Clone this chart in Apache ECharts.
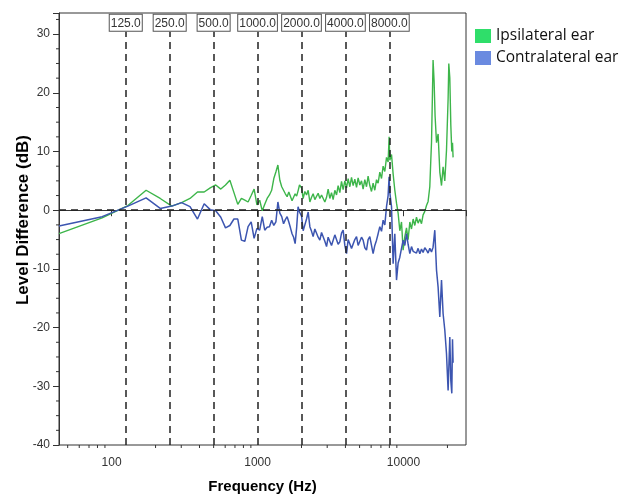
<!DOCTYPE html>
<html>
<head>
<meta charset="utf-8">
<script src="https://cdn.jsdelivr.net/npm/echarts@6/dist/echarts.min.js"></script>
<style>
html, body { margin: 0; padding: 0; background: #fff; }
#chart { width: 639px; height: 498px; }
</style>
</head>
<body>
<div id="chart"></div>
<script>
// level difference vs frequency
var ipsiFreq = [43.6, 86.1, 129.2, 172.3, 215.3, 258.4, 301.5, 344.5, 387.6, 430.7, 473.7, 516.8, 559.9, 603, 646, 689, 732, 775, 818, 861,
    904, 947, 990, 1034, 1077, 1120, 1163, 1206, 1249, 1292, 1335, 1378, 1421, 1464, 1507, 1550, 1594, 1637, 1680, 1723,
    1766, 1809, 1852, 1895, 1938, 2002, 2053, 2109, 2166, 2222, 2282, 2344, 2403, 2469, 2536, 2601, 2672, 2744, 2814, 2891,
    2969, 3045, 3127, 3212, 3295, 3384, 3476, 3565, 3662, 3761, 3858, 3962, 4070, 4174, 4288, 4404, 4517, 4639, 4765, 4887,
    5020, 5155, 5287, 5431, 5578, 5720, 5876, 6035, 6190, 6358, 6531, 6699, 6881, 7068, 7249, 7445, 7648, 7843, 7968, 8057,
    8276, 8488, 8718, 8955, 9184, 9434, 9689, 9938, 10210, 10480, 10750, 11050, 11340, 11640, 11950, 12270, 12590, 12930, 13280, 13620,
    13990, 14370, 14740, 15140, 15380, 15550, 15790, 15940, 16200, 16460, 16830, 17260, 17730, 18210, 18670, 19180, 19700, 20210, 20430, 20760,
    21090, 21420, 21660, 21860];
var ipsiLevel = [-4.0, -1.3, 0.8, 3.4, 2.0, 0.7, 1.3, 2.0, 3.1, 3.1, 3.8, 4.3, 3.6, 4.3, 5.1, 3.0, 1.0, 2.0, 1.7, 1.4,
    2.5, 3.6, 0.9, 1.7, -0.1, 1.0, 2.0, 2.6, 3.4, 5.4, 6.5, 7.7, 5.1, 4.0, 3.7, 2.8, 2.3, 3.1, 2.9, 1.6,
    1.4, 2.8, 2.4, 3.3, 4.3, 3.8, 2.0, 3.2, 2.6, 3.4, 1.4, 2.2, 2.8, 1.8, 1.7, 2.9, 2.0, 2.6, 2.4, 1.4,
    2.2, 3.6, 2.0, 3.0, 1.8, 3.4, 2.6, 4.2, 3.0, 4.9, 3.5, 5.0, 3.8, 5.4, 4.0, 5.6, 4.2, 5.3, 3.9, 5.5,
    4.3, 5.0, 3.6, 5.2, 4.0, 5.8, 4.2, 3.2, 4.6, 3.4, 5.2, 4.6, 6.5, 5.4, 7.5, 6.6, 9.0, 8.2, 12.5, 8.5,
    9.5, 6.2, 3.4, 1.2, -0.5, -3.5, -2.0, -6.8, -4.5, -3.0, -5.0, -2.0, -3.2, -1.5, -2.6, -1.2, -2.2, -1.5, -2.3, -0.8,
    -0.2, 0.8, 1.5, 4.0, 8.5, 11.5, 20.0, 25.6, 22.0, 16.0, 11.5, 13.0, 6.5, 4.2, 7.4, 5.0, 10.2, 19.0, 25.0, 22.5,
    14.5, 10.0, 11.5, 9.0];

var contraFreq = [43.6, 86.1, 129.2, 172.3, 215.3, 258.4, 301.5, 344.5, 387.6, 430.7, 473.7, 516.8, 559.9, 603, 646, 689, 732, 775, 818, 861,
    904, 947, 990, 1034, 1077, 1120, 1163, 1206, 1249, 1292, 1335, 1378, 1421, 1464, 1507, 1550, 1594, 1637, 1680, 1723,
    1766, 1809, 1852, 1895, 1938, 2002, 2053, 2109, 2166, 2222, 2282, 2344, 2403, 2469, 2536, 2601, 2672, 2744, 2814, 2891,
    2969, 3045, 3127, 3212, 3295, 3384, 3476, 3565, 3662, 3761, 3858, 3962, 4070, 4174, 4288, 4404, 4517, 4639, 4765, 4887,
    5020, 5155, 5287, 5431, 5578, 5720, 5876, 6035, 6190, 6358, 6531, 6699, 6881, 7068, 7249, 7445, 7648, 7843, 7968, 8057,
    8276, 8488, 8718, 8955, 9184, 9434, 9689, 9938, 10210, 10480, 10750, 11050, 11340, 11640, 11950, 12270, 12590, 12930, 13280, 13620,
    13990, 14370, 14740, 15140, 15550, 15940, 16380, 16830, 17260, 17730, 18210, 18670, 19180, 19700, 20210, 20760, 21090, 21420, 21660, 21860];
var contraLevel = [-2.7, -1.1, 0.7, 2.1, 0.3, 0.7, 1.3, 0.6, -1.5, 1.1, 0.1, -0.1, -1.2, -3.0, -2.6, -1.5, -1.5, -5.1, -5.3, -2.8,
    -2.0, -4.8, -3.1, -3.4, -1.1, -3.4, -2.9, -2.8, -1.7, -2.6, -2.0, 1.4, -0.5, -1.1, -2.3, -1.6, -1.1, -2.0, -3.0, -4.0,
    -4.6, -5.7, -3.0, 0.6, -0.3, -1.0, -3.5, -2.5, -1.5, -0.3, -2.8, -3.6, -4.5, -3.2, -3.4, -4.6, -5.1, -3.8, -4.0, -5.3,
    -6.2, -4.6, -4.5, -6.0, -5.7, -4.2, -4.0, -5.8, -5.4, -3.9, -3.4, -6.0, -7.4, -5.0, -5.1, -6.5, -6.8, -5.0, -4.5, -6.0,
    -6.2, -4.6, -5.1, -6.4, -6.8, -5.0, -4.5, -6.0, -7.4, -6.0, -5.1, -4.0, -2.8, -3.6, -1.7, -2.5, 0.6, 2.5, 5.7, 3.0,
    0.6, -9.1, -4.0, -11.9, -9.0, -8.0, -6.5, -5.1, -6.0, -4.0, -5.8, -7.4, -6.2, -7.0, -6.8, -7.3, -6.5, -7.4, -6.6, -7.2,
    -6.4, -6.8, -7.3, -6.5, -7.1, -6.3, -3.4, -10.2, -13.1, -18.2, -11.9, -17.6, -20.4, -24.4, -30.7, -21.6, -29.0, -31.2, -22.0, -26.0];

var bandFreqs = [125, 250, 500, 1000, 2000, 4000, 8000];
var xMajorTicks = [100, 1000, 10000];
var xMinorTicks = [50, 60, 70, 80, 90, 200, 300, 400, 500, 600, 700, 800, 900,
    2000, 3000, 4000, 5000, 6000, 7000, 8000, 9000, 20000];
var yMinorTicks = [-37.5, -35, -32.5, -27.5, -25, -22.5, -17.5, -15, -12.5, -7.5, -5, -2.5,
    2.5, 5, 7.5, 12.5, 15, 17.5, 22.5, 25, 27.5, 32.5];

var xMin = 43.6, xMax = 26800;
var yMin = -40, yMax = 33.6;

function pairs(xs, ys) {
    return xs.map(function (x, i) { return [x, ys[i]]; });
}

var bandLines = bandFreqs.map(function (f) {
    return [
        { coord: [f, yMin] },
        { coord: [f, 30.4], label: { formatter: f.toFixed(1) } }
    ];
});
bandLines.push({ yAxis: 0, label: { show: false } });

var axisFont = 'Liberation Sans, Arial, sans-serif';

var option = {
    animation: false,
    legend: {
        orient: 'vertical',
        left: 475,
        top: 28,
        padding: 0,
        itemWidth: 16,
        itemHeight: 14,
        itemGap: 6,
        icon: 'rect',
        textStyle: { fontSize: 15.5, fontFamily: 'Open Sans', color: '#111' },
        data: [
            { name: 'Ipsilateral ear', itemStyle: { color: '#2fde6a' } },
            { name: 'Contralateral ear', itemStyle: { color: '#6a8ae0' } }
        ]
    },
    grid: {
        left: 59, right: 173, top: 13, bottom: 53,
        show: true, borderColor: '#333', borderWidth: 1,
        outerBoundsMode: 'none'
    },
    xAxis: {
        type: 'log',
        logBase: 10,
        min: xMin,
        max: xMax,
        name: 'Frequency (Hz)',
        nameLocation: 'middle',
        nameGap: 34,
        nameMoveOverlap: false,
        nameTextStyle: { fontSize: 15, fontWeight: 'bold', color: '#000', fontFamily: axisFont },
        axisLine: { lineStyle: { color: '#333' } },
        axisTick: { length: 6, lineStyle: { color: '#333' } },
        axisLabel: {
            fontSize: 12, color: '#333', fontFamily: axisFont, margin: 12,
            formatter: function (v) {
                var r = Math.round(v);
                return xMajorTicks.indexOf(r) >= 0 ? String(r) : '';
            }
        },
        splitLine: { show: false }
    },
    yAxis: {
        type: 'value',
        min: yMin,
        max: yMax,
        interval: 10,
        name: 'Level Difference (dB)',
        nameLocation: 'middle',
        nameGap: 27,
        nameMoveOverlap: false,
        nameTextStyle: { fontSize: 17, fontWeight: 'bold', color: '#000', fontFamily: axisFont, padding: [0, 0, 0, 18] },
        axisLine: { show: true, lineStyle: { color: '#333' } },
        axisTick: { show: true, length: 6, lineStyle: { color: '#333' } },
        axisLabel: {
            fontSize: 12, color: '#333', fontFamily: axisFont, margin: 9,
            formatter: function (v) { return v % 10 === 0 ? String(v) : ''; }
        },
        splitLine: { show: false }
    },
    series: [
        {
            name: 'Ipsilateral ear',
            type: 'line',
            data: pairs(ipsiFreq, ipsiLevel),
            symbol: 'none',
            lineStyle: { color: '#3db54a', width: 1.4 },
            itemStyle: { color: '#3db54a' },
            markLine: {
                silent: true,
                symbol: ['none', 'none'],
                lineStyle: { color: '#222', width: 1.5, type: [7, 5] },
                label: {
                    position: 'end',
                    distance: 1,
                    fontSize: 12,
                    fontFamily: axisFont,
                    color: '#333',
                    backgroundColor: '#fff',
                    borderColor: '#555',
                    borderWidth: 1,
                    padding: [3, 1, 1, 1]
                },
                data: bandLines
            }
        },
        {
            name: 'Contralateral ear',
            type: 'line',
            data: pairs(contraFreq, contraLevel),
            symbol: 'none',
            lineStyle: { color: '#3c55b0', width: 1.5 },
            itemStyle: { color: '#3c55b0' }
        },
        {
            // minor ticks below the x axis
            type: 'custom',
            silent: true,
            data: xMinorTicks.map(function (f) { return [f, yMin]; }),
            renderItem: function (params, api) {
                var p = api.coord([api.value(0), api.value(1)]);
                return { type: 'line', shape: { x1: p[0], y1: p[1], x2: p[0], y2: p[1] + 3 }, style: { stroke: '#333', lineWidth: 1 } };
            }
        },
        {
            // minor ticks left of the y axis
            type: 'custom',
            silent: true,
            data: yMinorTicks.map(function (v) { return [xMin, v]; }),
            renderItem: function (params, api) {
                var p = api.coord([api.value(0), api.value(1)]);
                return { type: 'line', shape: { x1: p[0] - 3, y1: p[1], x2: p[0], y2: p[1] }, style: { stroke: '#333', lineWidth: 1 } };
            }
        }
    ]
};

var myChart = echarts.init(document.getElementById('chart'));
myChart.setOption(option);
</script>
</body>
</html>
